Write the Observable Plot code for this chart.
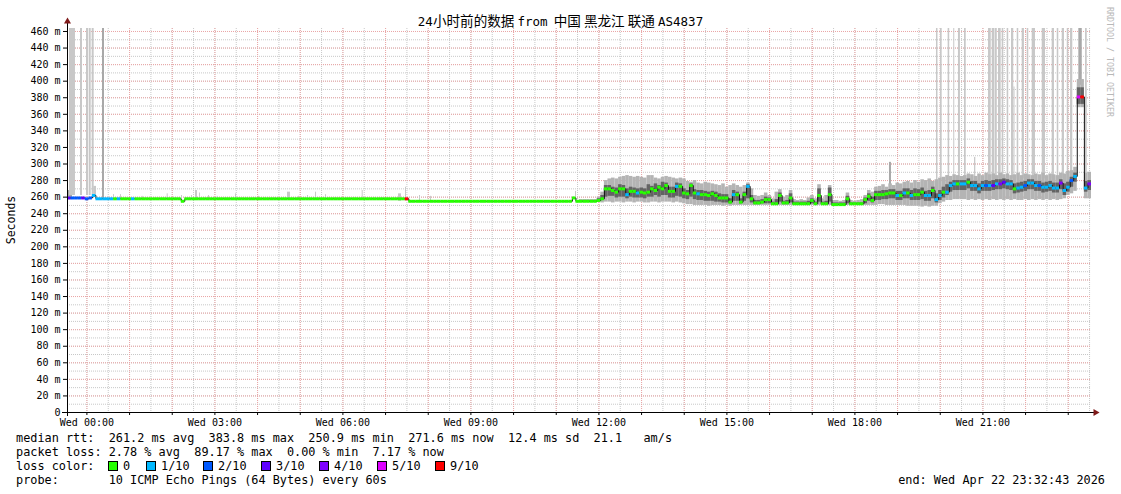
<!DOCTYPE html>
<html><head><meta charset="utf-8">
<script src="https://cdn.jsdelivr.net/npm/d3@7"></script>
<script src="https://cdn.jsdelivr.net/npm/@observablehq/plot@0.6"></script>
<style>
body{margin:0;background:#fff;}
#wrap{position:relative;width:1121px;height:494px;overflow:hidden;font-family:"DejaVu Sans Mono",monospace;color:#000;background:#fff;}
#wrap svg{position:absolute;left:0;top:0;}
.t{position:absolute;white-space:pre;font-size:11.85px;line-height:14px;}
.box{position:absolute;width:8px;height:8px;border:1px solid #000;}
.cjk{font-family:"Noto Sans CJK SC",sans-serif;font-size:13.6px;}
</style></head><body><div id="wrap"></div>
<script>
// ---------- data (5-minute steps from Tue 23:32:43 UTC) ----------
const title = "24小时前的数据 from  中国 黑龙江 联通 AS4837";
const yTicks = [0,20,40,60,80,100,120,140,160,180,200,220,240,260,280,300,320,340,360,380,400,420,440,460];
const yMax = 463.6;

const med = [
259,259,259,259,259,258,259,262,258,258,258,258,
258,258,258,258,258,258,258,258,258,258,258,258,
258,258,258,258,258,258,258,258,255,258,258,258,
258,258,258,258,258,258,258,258,258,258,258,258,
258,258,258,258,258,258,258,258,258,258,258,258,
258,258,258,258,258,258,258,258,258,258,258,258,
258,258,258,258,258,258,258,258,258,258,258,258,
258,258,258,258,258,258,258,258,258,258,258,258,
255,255,255,255,255,255,255,255,255,255,255,255,
255,255,255,255,255,255,255,255,255,255,255,255,
255,255,255,255,255,255,255,255,255,255,255,255,
255,255,255,255,255,255,255,255,255,255,259,255,
255,255,255,255,255,256,258,270,270,268,266,270,
270,263,267,267,265,266,265,266,270,268,272,270,
274,267,267,273,273,265,264,274,265,264,263,263,
262,264,262,259,259,259,254,263,263,254,263,273,
258,253,253,254,257,257,252,252,262,253,253,259,
252,252,252,252,252,256,252,262,252,252,263,251,
251,251,251,258,252,252,252,252,257,261,256,263,
263,263,264,265,265,262,262,265,265,262,263,263,
266,262,262,268,257,262,266,266,274,276,276,276,
276,278,274,274,270,274,274,274,274,276,276,278,
276,276,270,271,272,274,277,277,274,274,272,272,
274,271,271,277,268,272,280,285,381,381,271,276];

const loss = [
3,2,2,2,3,2,2,1,1,1,1,1,
1,0,1,0,0,0,1,0,0,0,0,0,
0,0,0,0,0,0,0,0,0,0,0,0,
0,0,0,0,0,0,0,0,0,0,0,0,
0,0,0,0,0,0,0,0,0,0,0,0,
0,0,0,0,0,0,0,0,0,0,0,0,
0,0,0,0,0,0,0,0,0,0,0,0,
0,0,0,0,0,0,0,0,0,0,0,9,
0,0,0,0,0,0,0,0,0,0,0,0,
0,0,0,0,0,0,0,0,0,0,0,0,
0,0,0,0,0,0,0,0,0,0,0,0,
0,0,0,0,0,0,0,0,0,0,0,0,
0,0,0,0,0,0,0,0,0,0,0,0,
0,1,0,0,1,0,0,0,0,0,0,0,
0,0,0,1,0,0,0,0,0,1,0,0,
0,0,0,0,0,0,0,1,0,0,0,1,
0,0,0,0,0,0,0,0,0,0,0,0,
0,0,0,0,0,0,0,0,0,0,0,0,
0,0,0,0,0,0,0,0,0,0,0,0,
0,0,0,0,0,1,0,1,0,1,0,0,
0,1,1,0,1,1,0,1,1,1,0,1,
1,0,1,1,1,1,2,1,3,1,4,3,
1,1,0,1,1,2,1,1,1,2,1,1,
1,1,1,4,1,1,2,1,5,9,1,4];

// smoke (ping spread) for steps 144..287
const smokeStart = 144;
const outerHi = [
257,257,257,257,257,260,266,280,282,283,282,284,
285,286,285,284,285,284,283,286,286,283,282,284,
285,284,283,282,283,282,279,278,280,277,276,278,
277,276,275,274,276,272,274,276,274,272,274,277,
270,262,261,262,265,262,258,266,269,260,262,268,
257,256,257,256,259,262,258,275,258,262,274,256,
256,255,256,265,256,255,256,257,262,268,266,272,
273,275,272,276,274,277,276,278,279,277,280,278,
281,280,282,279,281,283,284,286,285,287,286,285,
286,288,287,285,288,286,289,287,288,286,289,287,
288,286,287,289,286,288,287,286,288,287,289,286,
288,287,286,289,288,291,292,296,402,402,289,290];
const outerLo = [
254,254,254,254,254,254,253,254,254,253,254,254,
253,254,254,253,254,254,253,253,254,254,253,254,
254,254,253,254,253,252,251,251,250,250,250,250,
249,250,250,250,249,250,249,250,250,250,250,250,
250,250,250,250,250,250,250,250,250,250,250,250,
250,250,250,250,250,250,250,250,250,250,250,250,
250,250,250,250,250,250,250,250,250,250,250,250,
251,251,250,250,250,250,250,250,249,249,249,249,
248,249,248,249,249,252,254,256,256,257,257,257,
257,256,257,256,257,256,257,256,257,256,257,256,
257,256,257,256,256,257,256,257,256,257,256,257,
256,257,256,257,258,262,264,267,368,368,258,258];
const innerHi = [
256,256,256,256,256,258,262,274,274,272,271,275,
274,270,272,271,270,271,270,275,273,276,274,278,
277,272,272,277,276,270,268,276,269,268,268,267,
266,267,266,264,263,263,258,268,266,258,266,275,
262,256,256,257,260,259,254,257,265,255,256,264,
254,254,254,254,255,258,254,270,254,255,271,253,
253,253,253,261,253,253,253,253,259,264,260,267,
267,268,268,269,269,267,267,270,270,268,270,269,
271,267,268,272,264,268,272,275,278,280,280,280,
280,282,279,279,276,279,280,279,280,281,281,282,
281,280,276,277,278,279,281,281,279,279,277,278,
279,277,277,281,276,278,284,289,392,392,279,280];
const innerLo = [
255,255,255,255,255,255,256,260,261,261,259,260,
260,258,260,259,259,259,258,260,260,262,260,262,
262,259,259,261,260,258,257,260,257,256,256,255,
255,255,254,254,253,253,252,255,255,252,255,258,
253,251,251,252,252,252,251,251,254,251,251,253,
251,251,251,251,251,252,251,254,251,251,254,250,
250,250,250,252,251,251,251,251,252,255,253,256,
256,257,257,258,258,256,256,258,258,256,256,256,
257,255,255,258,253,256,259,262,266,268,268,268,
268,270,267,267,264,267,267,267,268,269,269,270,
269,268,264,265,266,267,269,269,267,267,265,266,
267,265,265,269,262,266,272,278,372,372,266,268];

// single outlier pings: start (minutes after start), duration (min), low/high (ms), pings high
const spikeStart = [0,2.8,18.3,26.7,30.5,34.7,37.0,49.2,
 64.7,74.5,105.0,140.2,160.3,174.4,180.0,185.6,198.3,210.5,236.3,268.6,309.4,324.8,337.5,348.8,362.8,414.4,465.5,475.3,495.0,510.5,714.4,
 1155.9,1222.0,1227.6,1238.4,1246.3,1252.9,1261.4,1275.5,1295.2,1300.4,1304.3,1309.2,1314.4,1321.4,1327.5,1331.0,1335.5,1342.5,1349.6,1356.6,1370.7,1384.7,1391.8,1398.8,1405.9,1410.5,1422.2,1431.6];
const spikeDur = [7,8.4,2.8,2.8,2.8,2.8,3.8,2.8,
 1.4,1.4,1.4,1.4,1.4,1.4,2.8,1.4,1.4,1.4,1.4,1.4,4.2,1.4,1.4,1.4,1.4,1.4,4.2,1.4,1.4,1.4,1.4,
 2.8,2.1,2.4,2.2,1.4,2.8,2.4,1.8,3.8,3.2,3.2,3.8,2.2,2.2,3.2,1.4,2.2,3.2,2.2,4.6,4.6,3.2,2.2,3.2,2.2,3.2,4.8,2.4];
const spikeLo = [257,262,262,262,262,262,260,258,
 258,258,258,258,258,258,258,258,258,258,258,258,258,258,258,258,258,258,255,255,255,255,255,
 270,280,280,280,280,280,280,280,282,282,282,282,282,282,282,282,282,282,282,282,282,282,282,282,282,282,395,282];
const spikeHi = [268,464,464,464,464,464,273,464,
 263,263,261,264,262,262,268,265,262,261,264,261,266,261,262,266,263,268,264,272,262,261,267,
 302,464,464,464,464,464,464,308,464,464,464,464,464,464,464,393,464,464,464,464,464,464,464,464,464,464,464,464];
const spikePings = [2,1,1,1,1,1,1,2,
 1,1,1,1,1,1,1,1,1,1,1,1,1,1,1,1,1,1,1,1,1,1,1,
 2,1,1,1,1,1,1,1,1,1,1,1,1,1,1,1,1,1,1,1,1,1,1,1,1,1,2,1];

const lossKeys = [0,1,2,3,4,5,9];
const lossLabels = ["0","1/10","2/10","3/10","4/10","5/10","9/10"];
const lossColors = ["#26ff00","#00b8ff","#0059ff","#5e00ff","#7e00ff","#dd00ff","#ff0000"];

const statLines = [
 "median rtt:  261.2 ms avg  383.8 ms max  250.9 ms min  271.6 ms now  12.4 ms sd  21.1   am/s",
 "packet loss: 2.78 % avg  89.17 % max  0.00 % min  7.17 % now",
 "loss color:",
 "probe:       10 ICMP Echo Pings (64 Bytes) every 60s"];
const endText = "end: Wed Apr 22 23:32:43 2026";
const credit = "RRDTOOL / TOBI OETIKER";

// ---------- build ----------
const start = new Date(Date.UTC(2026,3,21,23,32,43));
const end = new Date(Date.UTC(2026,3,22,23,32,43));
const STEP = 5*60000, MIN = 60000;
const colorOf = l => lossColors[lossKeys.indexOf(l)];
const steps = med.map((m,i)=>({t0:new Date(+start+i*STEP), t1:new Date(+start+(i+1)*STEP), med:m, loss:loss[i]}));
const smoke = outerHi.map((h,k)=>({t0:new Date(+start+(smokeStart+k)*STEP), t1:new Date(+start+(smokeStart+k+1)*STEP),
  oHi:h, oLo:outerLo[k], iHi:innerHi[k], iLo:innerLo[k]}));
const spikes = spikeStart.map((s,k)=>({t0:new Date(+start+s*MIN), t1:new Date(+start+(s+spikeDur[k])*MIN),
  lo:spikeLo[k], hi:spikeHi[k], n:spikePings[k]}));

const font = "DejaVu Sans Mono";
const minorGrid = {stroke:"#c8c8c8", strokeOpacity:1, strokeDasharray:"1,1"};
const majorGrid = {stroke:"#eba6a6", strokeOpacity:1, strokeDasharray:"1,1"};

const chart = Plot.plot({
  width:1121, height:494,
  marginTop:28, marginBottom:82, marginLeft:67, marginRight:30,
  style:{fontFamily:font, fontSize:"10px", background:"transparent", color:"#000", overflow:"visible"},
  x:{type:"utc", domain:[start,end]},
  y:{domain:[0,yMax]},
  marks:[
    Plot.gridY(d3.ticks(0,460,46), minorGrid),
    Plot.gridX(d3.utcMinute.every(30).range(start,end), minorGrid),
    Plot.gridY(yTicks.filter(v=>v>0), majorGrid),
    Plot.gridX(d3.utcHour.range(start,end), majorGrid),
    Plot.rect(spikes, {x1:"t0", x2:"t1", y1:"lo", y2:"hi", fill:d=>d.n>1?"#a8a8a8":"#c8c8c8", clip:true}),
    Plot.rect(smoke, {x1:"t0", x2:"t1", y1:"oLo", y2:"oHi", fill:"#b4b4b4"}),
    Plot.rect(smoke, {x1:"t0", x2:"t1", y1:"iLo", y2:"iHi", fill:"#636363"}),
    Plot.line(steps, {x:"t0", y:"med", curve:"step-after", stroke:"#111", strokeWidth:1}),
    Plot.ruleY(steps, {y:"med", x1:"t0", x2:"t1", stroke:d=>colorOf(d.loss), strokeWidth:3}),
    Plot.axisY(yTicks, {tickFormat:d=>d===0?"0":`${d} m`, tickSize:4, tickPadding:3, fontSize:10, label:null}),
    Plot.axisX(d3.utcHour.every(3).range(start,end), {tickFormat:d3.utcFormat("%a %H:%M"), tickSize:0, tickPadding:6, fontSize:10, label:null}),
    Plot.axisX(d3.utcHour.range(start,end), {tickFormat:()=>"", tickSize:3, label:null}),
    Plot.ruleY([0], {stroke:"#000", insetLeft:-5, insetRight:-3}),
    Plot.ruleX([start], {stroke:"#000", insetTop:-6, insetBottom:-4}),
    Plot.dot([0], {frameAnchor:"top-left", dy:-7, symbol:"triangle", r:2.6, fill:"#7f1a1a", stroke:null}),
    Plot.dot([0], {frameAnchor:"bottom-right", dx:4, rotate:90, symbol:"triangle", r:2.6, fill:"#7f1a1a", stroke:null})
  ]
});
const wrap = document.getElementById("wrap");
wrap.appendChild(chart);

function addText(txt, css, cls="t"){
  const d = document.createElement("div"); d.className = cls; d.textContent = txt;
  Object.assign(d.style, css); wrap.appendChild(d); return d;
}
// title: CJK runs and spaces in the CJK font, Latin in the mono font
const tDiv = addText("", {left:"0px", width:"1121px", textAlign:"center", top:"13px", fontSize:"12.5px"});
title.split(/([\u3000-\u9fff ]+)/).filter(s=>s.length).forEach(run=>{
  const sp = document.createElement("span"); sp.textContent = run;
  if (/[\u3000-\u9fff ]/.test(run)) sp.className = "cjk";
  tDiv.appendChild(sp);
});
addText("Seconds", {left:"-39px", width:"100px", textAlign:"center", top:"213px", transform:"rotate(-90deg)", fontSize:"11.5px"});
addText(credit, {left:"1050px", width:"120px", textAlign:"center", top:"55px", transform:"rotate(90deg)", fontSize:"8.3px", color:"#b8b8b8"});
const lineTops = [431,445,459,473];
statLines.forEach((s,k)=>addText(s, {left:"16px", top:lineTops[k]+"px"}));
addText(endText, {right:"16px", top:lineTops[3]+"px"});
const boxX = [108,146,203,261,319,377,435];
lossLabels.forEach((lab,k)=>{
  const b = document.createElement("div"); b.className="box";
  Object.assign(b.style,{left:boxX[k]+"px", top:(lineTops[2]+2)+"px", background:lossColors[k]});
  wrap.appendChild(b);
  addText(lab, {left:(boxX[k]+15)+"px", top:lineTops[2]+"px"});
});
</script></body></html>
